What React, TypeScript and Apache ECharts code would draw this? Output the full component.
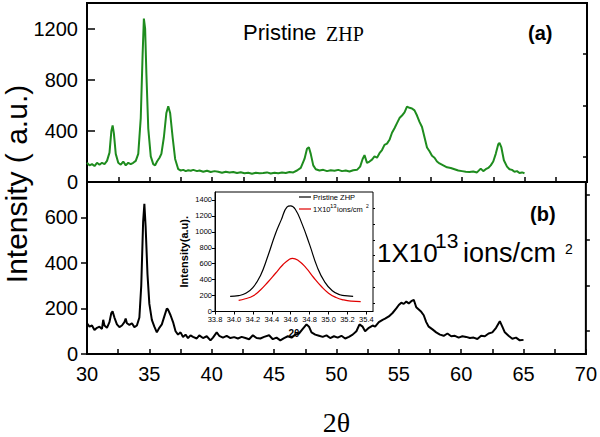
import React, { useEffect, useRef } from "react";
import * as echarts from "echarts";

// ---- Panel (a): pristine ZHP (green) ----
const greenX = [30.0,30.2,30.4,30.6,30.8,31.0,31.2,31.4,31.6,31.8,31.95,32.05,32.15,32.3,32.5,32.7,32.9,33.1,33.3,33.5,33.7,33.9,34.1,34.3,34.45,34.55,34.65,34.75,34.9,35.1,35.3,35.45,35.6,35.8,35.95,36.15,36.35,36.5,36.65,36.85,37.05,37.3,37.5,37.7,37.9,38.1,38.3,38.5,38.8,39.0,39.3,39.6,39.9,40.2,40.5,40.8,41.1,41.4,41.7,42.0,42.3,42.6,42.9,43.2,43.5,43.8,44.1,44.4,44.7,45.0,45.3,45.6,45.9,46.2,46.5,46.8,47.1,47.4,47.6,47.75,47.9,48.1,48.3,48.6,48.9,49.2,49.5,49.8,50.1,50.4,50.7,51.0,51.3,51.6,51.85,52.05,52.2,52.4,52.6,52.8,53.0,53.2,53.4,53.6,53.8,54.0,54.2,54.4,54.6,54.8,55.0,55.2,55.4,55.6,55.8,56.0,56.2,56.4,56.6,56.8,57.0,57.2,57.4,57.6,57.8,58.0,58.2,58.5,58.8,59.1,59.4,59.7,60.0,60.3,60.6,60.9,61.2,61.5,61.7,61.9,62.1,62.3,62.5,62.7,62.9,63.0,63.15,63.35,63.6,63.8,64.0,64.2,64.4,64.6,64.8,65.0];
const greenY = [150,130,140,125,150,135,150,140,165,230,400,443,380,220,150,135,160,130,150,140,150,165,220,500,1000,1278,1200,850,420,200,140,130,160,190,220,350,540,592,540,350,180,100,90,95,85,92,88,95,85,90,80,88,78,85,80,72,80,74,78,70,76,68,72,65,72,68,70,75,66,72,68,74,70,78,75,90,110,180,260,272,220,130,100,90,95,85,92,88,95,85,90,82,92,95,120,180,210,150,160,175,200,190,225,250,290,300,330,385,420,460,500,520,545,590,580,575,560,520,470,430,350,270,240,205,190,160,145,130,115,110,100,90,85,80,78,82,75,105,85,100,110,130,160,220,295,305,270,170,120,100,95,80,85,70,75,68];

// ---- Panel (b): 1X10^13 ions/cm^2 (black) ----
const blackX = [30.0,30.2,30.4,30.6,30.8,31.0,31.2,31.3,31.4,31.6,31.8,31.95,32.05,32.2,32.4,32.6,32.8,33.0,33.1,33.2,33.4,33.6,33.8,34.0,34.2,34.35,34.5,34.6,34.7,34.85,35.0,35.2,35.4,35.6,35.8,36.0,36.2,36.4,36.5,36.7,36.9,37.1,37.3,37.5,37.7,37.9,38.1,38.3,38.5,38.8,39.0,39.3,39.6,39.9,40.1,40.4,40.6,40.9,41.2,41.5,41.8,42.1,42.4,42.7,43.0,43.3,43.6,43.9,44.2,44.6,44.9,45.2,45.5,45.8,46.1,46.4,46.7,47.0,47.3,47.6,47.8,48.0,48.3,48.6,48.9,49.2,49.5,49.8,50.1,50.4,50.7,51.0,51.3,51.6,51.85,52.1,52.3,52.6,52.9,53.1,53.4,53.7,53.9,54.2,54.5,54.8,55.0,55.2,55.4,55.6,55.8,56.0,56.2,56.4,56.6,56.8,57.0,57.2,57.4,57.7,58.0,58.3,58.6,58.9,59.2,59.5,59.8,60.1,60.4,60.7,61.0,61.3,61.6,61.9,62.2,62.5,62.8,63.1,63.3,63.5,63.8,64.1,64.4,64.7,65.0];
const blackY = [135,120,125,105,115,120,110,150,125,115,140,180,187,160,130,118,125,140,156,135,128,135,118,125,160,300,580,659,560,350,220,150,120,95,115,130,165,200,195,170,140,100,85,95,75,85,70,82,75,68,82,70,78,60,72,95,80,72,80,70,74,68,75,70,65,82,70,68,75,82,65,72,60,70,78,72,85,90,110,130,120,95,85,80,75,82,70,78,72,80,68,75,85,100,130,120,100,115,125,120,140,150,155,165,180,200,215,225,220,230,222,232,238,205,195,185,170,140,120,108,95,85,80,90,78,80,72,78,75,70,72,66,80,78,90,95,115,144,120,95,80,67,72,60,62];

// ---- Inset: fitted (002) peak ----
const insetPristineX = [33.96,34.05,34.12,34.2,34.28,34.36,34.44,34.5,34.56,34.6,34.65,34.72,34.8,34.88,34.96,35.04,35.12,35.2,35.26];
const insetPristineY = [190,200,225,300,450,700,980,1150,1310,1325,1280,1100,840,560,370,260,210,195,190];
const insetIrrX = [34.05,34.12,34.2,34.28,34.36,34.44,34.52,34.58,34.62,34.68,34.76,34.84,34.92,35.0,35.08,35.16,35.24,35.34];
const insetIrrY = [140,160,195,270,370,480,590,650,668,640,550,430,320,230,175,145,130,125];

// ---- tick labels ----
const mainXTicks = [30,32.5,35,37.5,40,42.5,45,47.5,50,52.5,55,57.5,60,62.5,65,67.5,70];
const mainXLabels = [30,35,40,45,50,55,60,65,70];
const topYLabels = [0,400,800,1200];
const topYMinor = [200,600,1000];
const botYLabels = [0,200,400,600];
const botYMinor = [100,300,500,700];
const insetXLabels = [33.8,34.0,34.2,34.4,34.6,34.8,35.0,35.2,35.4];
const insetYLabels = [0,200,400,600,800,1000,1200,1400];
const insetYMinor = [100,300,500,700,900,1100,1300];

const zip = (xs: number[], ys: number[]) => xs.map((x, i) => [x, ys[i]]);
const plain = (v: number) => String(v);

const SANS = "'Liberation Sans', Arial, sans-serif";
const SERIF = "'Liberation Serif', 'Times New Roman', serif";

export default function App() {
  const ref = useRef<HTMLDivElement>(null);
  useEffect(() => {
    if (!ref.current) return;
    const chart = echarts.init(ref.current, undefined, { renderer: "svg" });
    const axisLine = { show: true, onZero: false, lineStyle: { color: "#000", width: 2 } };
    const noSplit = { show: false };
    const txt = (text: string, x: number, y: number, size: number, extra: any = {}) => ({
      type: "text",
      x,
      y,
      z: 100,
      style: {
        text,
        fontSize: size,
        fontFamily: SANS,
        fill: "#000",
        textAlign: "left",
        align: "left",
        textVerticalAlign: "middle",
        verticalAlign: "middle",
        ...extra,
      },
    });
    const option: any = {
      animation: false,
      backgroundColor: "#fff",
      grid: [
        { left: 87, top: 3, width: 500, height: 179, show: true, borderColor: "#000", borderWidth: 2, backgroundColor: "transparent" },
        { left: 87, top: 182, width: 500, height: 181, show: true, borderColor: "#000", borderWidth: 2, backgroundColor: "transparent" },
        { left: 215, top: 192, width: 158, height: 119.5, show: true, borderColor: "#000", borderWidth: 1, backgroundColor: "#fff", z: 10 },
      ],
      xAxis: [
        {
          gridIndex: 0, type: "value", min: 30, max: 70, axisLine,
          axisTick: { show: true, inside: true, length: 5, customValues: mainXTicks, lineStyle: { color: "#000", width: 1.5 } },
          axisLabel: { show: false }, splitLine: noSplit,
        },
        {
          gridIndex: 1, type: "value", min: 30, max: 70, axisLine,
          axisTick: { show: true, inside: true, length: 5, customValues: mainXTicks, lineStyle: { color: "#000", width: 1.5 } },
          axisLabel: { show: true, customValues: mainXLabels, formatter: plain, fontSize: 20, fontFamily: SANS, color: "#000", margin: 10 },
          splitLine: noSplit,
          name: "2θ", nameLocation: "middle", nameGap: 54,
          nameTextStyle: { fontFamily: SERIF, fontSize: 28, color: "#000" },
        },
        {
          gridIndex: 2, type: "value", min: 33.8, max: 35.47, z: 10,
          axisLine: { show: true, onZero: false, lineStyle: { color: "#000", width: 1 } },
          axisTick: { show: true, inside: false, length: 3, customValues: insetXLabels, lineStyle: { color: "#000", width: 1 } },
          axisLabel: { show: true, customValues: insetXLabels, fontSize: 7.5, fontFamily: SANS, color: "#000", margin: 4, formatter: (v: number) => v.toFixed(1) },
          splitLine: noSplit,
          name: "2θ", nameLocation: "middle", nameGap: 17,
          nameTextStyle: { fontFamily: SANS, fontSize: 10, fontWeight: "bold", color: "#000" },
        },
      ],
      yAxis: [
        {
          gridIndex: 0, type: "value", min: 0, max: 1400, axisLine,
          axisTick: { show: true, inside: true, length: 8, customValues: topYLabels, lineStyle: { color: "#000", width: 1.5 } },
          axisLabel: { show: true, customValues: topYLabels, formatter: plain, fontSize: 20, fontFamily: SANS, color: "#000", margin: 9 },
          splitLine: noSplit,
        },
        {
          gridIndex: 0, type: "value", min: 0, max: 1400, axisLine: { show: false },
          axisTick: { show: true, inside: true, length: 4, customValues: topYMinor, lineStyle: { color: "#000", width: 1.5 } },
          axisLabel: { show: false }, splitLine: noSplit,
        },
        {
          gridIndex: 1, type: "value", min: 0, max: 755, axisLine,
          axisTick: { show: true, inside: false, length: 6, customValues: botYLabels, lineStyle: { color: "#000", width: 1.5 } },
          axisLabel: { show: true, customValues: botYLabels, formatter: plain, fontSize: 20, fontFamily: SANS, color: "#000", margin: 9 },
          splitLine: noSplit,
        },
        {
          gridIndex: 1, type: "value", min: 0, max: 755, axisLine: { show: false },
          axisTick: { show: true, inside: false, length: 4, customValues: botYMinor, lineStyle: { color: "#000", width: 1.5 } },
          axisLabel: { show: false }, splitLine: noSplit,
        },
        {
          gridIndex: 2, type: "value", min: 0, max: 1500, z: 10,
          axisLine: { show: true, onZero: false, lineStyle: { color: "#000", width: 1 } },
          axisTick: { show: true, inside: false, length: 3, customValues: insetYLabels, lineStyle: { color: "#000", width: 1 } },
          axisLabel: { show: true, customValues: insetYLabels, formatter: plain, fontSize: 7.5, fontFamily: SANS, color: "#000", margin: 3 },
          splitLine: noSplit,
          name: "Intensity(a.u).", nameLocation: "middle", nameGap: 26,
          nameTextStyle: { fontFamily: SANS, fontSize: 11, fontWeight: "bold", color: "#000" },
        },
        {
          gridIndex: 2, type: "value", min: 0, max: 1500, z: 10, axisLine: { show: false },
          axisTick: { show: true, inside: false, length: 2, customValues: insetYMinor, lineStyle: { color: "#000", width: 1 } },
          axisLabel: { show: false }, splitLine: noSplit,
        },
      ],
      series: [
        {
          type: "line", xAxisIndex: 0, yAxisIndex: 0, data: zip(greenX, greenY),
          showSymbol: false, lineStyle: { color: "#1e8c1e", width: 2 }, itemStyle: { color: "#1e8c1e" },
        },
        {
          type: "line", xAxisIndex: 1, yAxisIndex: 2, data: zip(blackX, blackY),
          showSymbol: false, lineStyle: { color: "#000", width: 2 }, itemStyle: { color: "#000" },
        },
        {
          type: "line", xAxisIndex: 2, yAxisIndex: 4, data: zip(insetPristineX, insetPristineY), z: 12,
          showSymbol: false, smooth: true, lineStyle: { color: "#000", width: 1.2 }, itemStyle: { color: "#000" },
        },
        {
          type: "line", xAxisIndex: 2, yAxisIndex: 4, data: zip(insetIrrX, insetIrrY), z: 12,
          showSymbol: false, smooth: true, lineStyle: { color: "#e00000", width: 1.2 }, itemStyle: { color: "#e00000" },
        },
      ],
      graphic: [
        {
          type: "text", x: 16, y: 184, rotation: Math.PI / 2, z: 100,
          style: { text: "Intensity ( a.u.)", fontSize: 30, fontFamily: SANS, fill: "#000", textAlign: "center", align: "center", textVerticalAlign: "middle", verticalAlign: "middle" },
        },
        txt("Pristine", 243, 32, 22),
        txt("ZHP", 326, 34, 20, { fontFamily: SERIF }),
        txt("(a)", 528, 33, 20, { fontWeight: "bold" }),
        txt("(b)", 530, 214, 20, { fontWeight: "bold" }),
        txt("1X10", 377, 253, 26),
        txt("13", 435, 240.5, 21),
        txt("ions/cm", 463, 253, 27),
        txt("2", 565, 249, 14),
        { type: "line", z: 100, shape: { x1: 299, y1: 197, x2: 311, y2: 197 }, style: { stroke: "#000", lineWidth: 1.2 } },
        { type: "line", z: 100, shape: { x1: 299, y1: 209, x2: 311, y2: 209 }, style: { stroke: "#e00000", lineWidth: 1.2 } },
        txt("Pristine ZHP", 313, 197, 7.5),
        txt("1X10", 313, 209, 7.5),
        txt("13", 330, 205.5, 6),
        txt("ions/cm", 337, 209, 7.5),
        txt("2", 366, 206, 5),
      ],
    };
    chart.setOption(option);
    return () => chart.dispose();
  }, []);
  return <div ref={ref} style={{ position: "fixed", left: 0, top: 0, width: 600, height: 437 }} />;
}
